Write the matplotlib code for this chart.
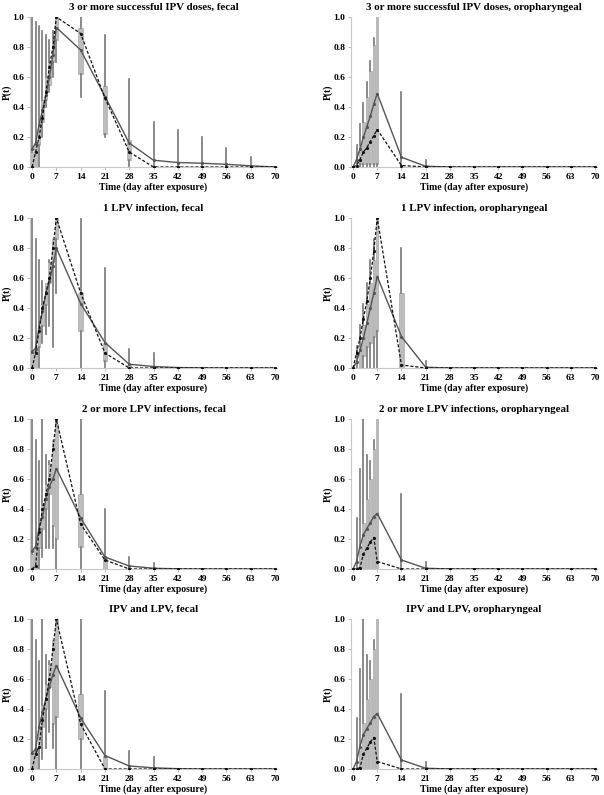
import matplotlib
matplotlib.use("Agg")
import matplotlib.pyplot as plt

plt.rcParams['font.family'] = ['Liberation Serif', 'DejaVu Serif']
plt.rcParams['font.weight'] = 'bold'

days = [0, 1, 2, 3, 4, 5, 6, 7, 14, 21, 28, 35, 42, 49, 56, 63, 70]
xticks = [0, 7, 14, 21, 28, 35, 42, 49, 56, 63, 70]
Z9 = [0] * 9

# 3 or more successful IPV doses, fecal
ipv_fec_lo = [0, 0, 0, 0.2, 0.4, 0.5, 0.6, 0.7, 0.47, 0.2, 0, 0, 0, 0, 0, 0, 0]
ipv_fec_q1 = [0, 0, 0.15, 0.3, 0.45, 0.55, 0.7, 0.85, 0.62, 0.22, 0.05, 0, 0, 0, 0, 0, 0]
ipv_fec_q3 = [0.1, 0.15, 0.3, 0.45, 0.6, 0.7, 0.85, 1.0, 0.93, 0.54, 0.18, 0.01, 0.005, 0.005, 0.003, 0, 0]
ipv_fec_hi = [1.0, 0.97, 0.94, 0.91, 0.88, 0.85, 0.91, 1.0, 1.0, 0.88, 0.59, 0.3, 0.25, 0.2, 0.13, 0.07, 0]
ipv_fec_med = [0, 0.1, 0.2, 0.33, 0.5, 0.67, 0.8, 1.0, 0.89, 0.46, 0.1, 0, 0, 0, 0, 0, 0]
ipv_fec_fit = [0.12, 0.16, 0.28, 0.38, 0.48, 0.6, 0.75, 0.93, 0.78, 0.47, 0.16, 0.045, 0.03, 0.025, 0.018, 0.008, 0]

# 3 or more successful IPV doses, oropharyngeal
ipv_oro_lo = [0] * 17
ipv_oro_q1 = [0, 0, 0.02, 0.02, 0.02, 0.02, 0.02, 0.02] + Z9
ipv_oro_q3 = [0, 0, 0.15, 0.3, 0.47, 0.64, 0.81, 1.0] + Z9
ipv_oro_hi = [0, 0.15, 0.29, 0.43, 0.57, 0.71, 0.86, 1.0, 0.5, 0.05, 0, 0, 0, 0, 0, 0, 0]
ipv_oro_med = [0, 0.01, 0.05, 0.1, 0.13, 0.17, 0.21, 0.25, 0.01, 0, 0, 0, 0, 0, 0, 0, 0]
ipv_oro_fit = [0, 0.05, 0.12, 0.2, 0.27, 0.34, 0.42, 0.49, 0.065, 0.005, 0, 0, 0, 0, 0, 0, 0]

# 1 LPV infection, fecal
lpv1_fec_lo = [0, 0, 0, 0.17, 0.23, 0.28, 0.14, 0.5, 0, 0, 0, 0, 0, 0, 0, 0, 0]
lpv1_fec_q1 = [0, 0, 0.14, 0.28, 0.42, 0.57, 0.71, 0.86, 0.25, 0.05, 0, 0, 0, 0, 0, 0, 0]
lpv1_fec_q3 = [0.1, 0.14, 0.28, 0.43, 0.57, 0.71, 0.86, 1.0, 0.5, 0.17, 0.02, 0.01, 0, 0, 0, 0, 0]
lpv1_fec_hi = [1.0, 0.86, 0.72, 0.58, 0.57, 0.72, 0.86, 1.0, 1.0, 0.67, 0.13, 0.1, 0, 0, 0, 0, 0]
lpv1_fec_med = [0, 0.1, 0.25, 0.4, 0.5, 0.6, 0.8, 1.0, 0.5, 0.1, 0, 0, 0, 0, 0, 0, 0]
lpv1_fec_fit = [0.11, 0.13, 0.27, 0.38, 0.5, 0.58, 0.68, 0.8, 0.43, 0.17, 0.025, 0.01, 0.003, 0.001, 0, 0, 0]

# 1 LPV infection, oropharyngeal
lpv1_oro_lo = [0] * 17
lpv1_oro_q1 = [0, 0, 0, 0.08, 0.14, 0.17, 0.21, 0.25] + Z9
lpv1_oro_q3 = [0, 0, 0.15, 0.29, 0.43, 0.57, 0.72, 1.0, 0.5, 0, 0, 0, 0, 0, 0, 0, 0]
lpv1_oro_hi = [0, 0.15, 0.29, 0.43, 0.57, 0.72, 0.86, 1.0, 0.8, 0.05, 0, 0, 0, 0, 0, 0, 0]
lpv1_oro_med = [0, 0.1, 0.2, 0.33, 0.45, 0.6, 0.78, 1.0, 0.02, 0, 0, 0, 0, 0, 0, 0, 0]
lpv1_oro_fit = [0, 0.04, 0.12, 0.2, 0.3, 0.4, 0.5, 0.61, 0.21, 0.005, 0, 0, 0, 0, 0, 0, 0]

# 2 or more LPV infections, fecal
lpv2_fec_lo = [0, 0, 0, 0.08, 0.14, 0.14, 0.14, 0, 0, 0, 0, 0, 0, 0, 0, 0, 0]
lpv2_fec_q1 = [0, 0, 0.14, 0.27, 0.4, 0.5, 0.29, 0.2, 0.15, 0, 0, 0, 0, 0, 0, 0, 0]
lpv2_fec_q3 = [0.1, 0.14, 0.28, 0.43, 0.57, 0.7, 0.86, 0.97, 0.5, 0.08, 0.01, 0.005, 0, 0, 0, 0, 0]
lpv2_fec_hi = [1.0, 0.86, 0.72, 1.0, 0.76, 0.72, 0.86, 1.0, 1.0, 0.4, 0.08, 0.04, 0, 0, 0, 0, 0]
lpv2_fec_med = [0, 0.02, 0.25, 0.4, 0.5, 0.6, 0.8, 1.0, 0.3, 0.06, 0, 0, 0, 0, 0, 0, 0]
lpv2_fec_fit = [0.12, 0.15, 0.27, 0.35, 0.47, 0.55, 0.6, 0.67, 0.34, 0.08, 0.02, 0.005, 0.001, 0, 0, 0, 0]

# 2 or more LPV infections, oropharyngeal
lpv2_oro_lo = [0] * 17
lpv2_oro_q1 = [0] * 17
lpv2_oro_q3 = [0, 0, 0.14, 0.31, 0.47, 0.6, 0.8, 1.0] + Z9
lpv2_oro_hi = [0, 0.34, 0.67, 1.0, 0.76, 0.72, 0.86, 1.0, 0.5, 0.05, 0, 0, 0, 0, 0, 0, 0]
lpv2_oro_med = [0, 0, 0.01, 0.1, 0.14, 0.18, 0.21, 0.05, 0, 0, 0, 0, 0, 0, 0, 0, 0]
lpv2_oro_fit = [0, 0.05, 0.15, 0.23, 0.27, 0.31, 0.35, 0.37, 0.06, 0.005, 0, 0, 0, 0, 0, 0, 0]

# IPV and LPV, fecal
both_fec_lo = [0, 0, 0, 0.07, 0.14, 0.25, 0.14, 0, 0, 0, 0, 0, 0, 0, 0, 0, 0]
both_fec_q1 = [0, 0, 0.14, 0.28, 0.4, 0.55, 0.3, 0.35, 0.2, 0, 0, 0, 0, 0, 0, 0, 0]
both_fec_q3 = [0.1, 0.14, 0.28, 0.43, 0.57, 0.7, 0.86, 1.0, 0.5, 0.09, 0.01, 0.005, 0, 0, 0, 0, 0]
both_fec_hi = [1.0, 0.86, 0.72, 1.0, 0.76, 0.72, 0.86, 1.0, 1.0, 0.52, 0.12, 0.08, 0, 0, 0, 0, 0]
both_fec_med = [0, 0.1, 0.15, 0.33, 0.47, 0.6, 0.8, 1.0, 0.3, 0, 0, 0, 0, 0, 0, 0, 0]
both_fec_fit = [0.11, 0.13, 0.28, 0.38, 0.47, 0.55, 0.63, 0.69, 0.34, 0.09, 0.02, 0.008, 0.002, 0, 0, 0, 0]

# IPV and LPV, oropharyngeal
both_oro_lo = [0] * 17
both_oro_q1 = [0] * 17
both_oro_q3 = [0, 0, 0.14, 0.31, 0.47, 0.6, 0.8, 1.0] + Z9
both_oro_hi = [0, 0.34, 0.67, 1.0, 0.76, 0.72, 0.86, 1.0, 0.5, 0.05, 0, 0, 0, 0, 0, 0, 0]
both_oro_med = [0, 0, 0.01, 0.1, 0.14, 0.18, 0.21, 0.05, 0, 0, 0, 0, 0, 0, 0, 0, 0]
both_oro_fit = [0, 0.05, 0.15, 0.23, 0.27, 0.31, 0.35, 0.37, 0.06, 0.005, 0, 0, 0, 0, 0, 0, 0]

panels = [
    ("3 or more successful IPV doses, fecal", ipv_fec_lo, ipv_fec_q1, ipv_fec_q3, ipv_fec_hi, ipv_fec_med, ipv_fec_fit),
    ("3 or more successful IPV doses, oropharyngeal", ipv_oro_lo, ipv_oro_q1, ipv_oro_q3, ipv_oro_hi, ipv_oro_med, ipv_oro_fit),
    ("1 LPV infection, fecal", lpv1_fec_lo, lpv1_fec_q1, lpv1_fec_q3, lpv1_fec_hi, lpv1_fec_med, lpv1_fec_fit),
    ("1 LPV infection, oropharyngeal", lpv1_oro_lo, lpv1_oro_q1, lpv1_oro_q3, lpv1_oro_hi, lpv1_oro_med, lpv1_oro_fit),
    ("2 or more LPV infections, fecal", lpv2_fec_lo, lpv2_fec_q1, lpv2_fec_q3, lpv2_fec_hi, lpv2_fec_med, lpv2_fec_fit),
    ("2 or more LPV infections, oropharyngeal", lpv2_oro_lo, lpv2_oro_q1, lpv2_oro_q3, lpv2_oro_hi, lpv2_oro_med, lpv2_oro_fit),
    ("IPV and LPV, fecal", both_fec_lo, both_fec_q1, both_fec_q3, both_fec_hi, both_fec_med, both_fec_fit),
    ("IPV and LPV, oropharyngeal", both_oro_lo, both_oro_q1, both_oro_q3, both_oro_hi, both_oro_med, both_oro_fit),
]

W, H = 604, 795
fig = plt.figure(figsize=(W / 100, H / 100), dpi=100)

col_left = [30, 351]
col_width = [247, 246]
row_top = [17, 218, 419, 619]
ax_h = 150

for i, (title, lo, q1, q3, hi, med, fit) in enumerate(panels):
    r, c = divmod(i, 2)
    ax = fig.add_axes([col_left[c] / W, 1 - (row_top[r] + ax_h) / H,
                       col_width[c] / W, ax_h / H])
    stats = []
    for k in range(len(days)):
        stats.append(dict(med=med[k], q1=q1[k], q3=q3[k], whislo=lo[k], whishi=hi[k]))
    widths = [0.7 if d <= 7 else 1.3 for d in days]
    ax.bxp(stats, positions=days, widths=widths, patch_artist=True,
           showfliers=False, showcaps=False, manage_ticks=False,
           boxprops=dict(facecolor='#bdbdbd', edgecolor='#a8a8a8', linewidth=0.5),
           whiskerprops=dict(color='#777777', linewidth=1.2),
           medianprops=dict(linewidth=0))
    ax.plot(days, fit, color='#555555', linewidth=1.0, marker='.', markersize=2.5, zorder=4)
    ax.plot(days, med, color='#111111', linewidth=0.9, linestyle=(0, (2.5, 1.5)),
            marker='.', markersize=2.5, zorder=5)

    ax.set_xlim(-0.6, 70.6)
    ax.set_ylim(0, 1.0)
    ax.set_xticks(xticks)
    ax.set_yticks([0, 0.2, 0.4, 0.6, 0.8, 1.0])
    ax.set_yticklabels(['0.0', '0.2', '0.4', '0.6', '0.8', '1.0'])
    for s in ['top', 'right']:
        ax.spines[s].set_visible(False)
    for s in ['left', 'bottom']:
        ax.spines[s].set_color('#c8c8c8')
        ax.spines[s].set_linewidth(0.8)
    ax.tick_params(labelsize=6.8, length=2, width=0.6, color='#b0b0b0', pad=2)
    for lab in ax.get_xticklabels() + ax.get_yticklabels():
        lab.set_fontweight('bold')
    ax.set_title(title, fontsize=7.8, fontweight='bold', pad=5)
    ax.set_ylabel('P(t)', fontsize=7, fontweight='bold', labelpad=0.5)
    ax.set_xlabel('Time (day after exposure)', fontsize=7, fontweight='bold', labelpad=1)

fig.savefig('out.png', dpi=100)
